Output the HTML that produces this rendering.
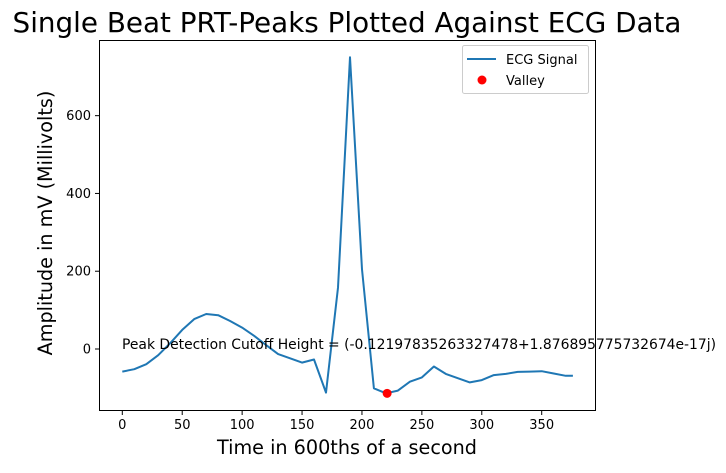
<!DOCTYPE html>
<html><head><meta charset="utf-8"><style>
body{margin:0;background:#fff}
svg text{font-family:"DejaVu Sans","Liberation Sans",sans-serif}
</style></head><body>
<svg id="chart" width="726" height="468" viewBox="0 0 726 468" xmlns="http://www.w3.org/2000/svg">
<rect width="726" height="468" fill="#fff"/>
<text x="347" y="32" font-size="27.8" text-anchor="middle">Single Beat PRT-Peaks Plotted Against ECG Data</text>
<g id="axes"></g>
<g id="marks"></g>
<text x="347" y="454" font-size="19.2" text-anchor="middle">Time in 600ths of a second</text>
<text transform="translate(52,223) rotate(-90)" font-size="19.2" text-anchor="middle">Amplitude in mV (Millivolts)</text>
<text x="122" y="349" font-size="13.9">Peak Detection Cutoff Height = (-0.12197835263327478+1.876895775732674e-17j)</text>
<rect x="99.5" y="40.5" width="496" height="370" fill="none" stroke="#000" stroke-width="1"/>
<g>
<rect x="462.5" y="45.5" width="126" height="48" rx="2" fill="#fff" fill-opacity="0.8" stroke="#ccc"/>
<line x1="467" y1="59" x2="496" y2="59" stroke="#1f77b4" stroke-width="2"/>
<text x="506" y="64" font-size="13">ECG Signal</text>
<circle cx="482" cy="80" r="4.5" fill="#ff0000"/>
<text x="506" y="85" font-size="13">Valley</text>
</g>
</svg>
<script>
const times = [0,10,20,30,40,50,60,70,80,90,100,110,120,130,140,150,160,170,180,190,200,210,220,230,240,250,260,270,280,290,300,310,320,330,340,350,360,370,376];
const amplitudes = [-58,-52,-39,-16,15,49,77,90,87,72,55,34,10,-13,-24,-35,-27,-112,158,750,205,-101,-114,-107,-84,-73,-45,-64,-75,-86,-80,-67,-64,-59,-58,-57,-63,-69,-69];
const valleyTimes = [221];
const valleyValues = [-114];
const xTicks = [0,50,100,150,200,250,300,350];
const yTicks = [0,200,400,600];
const X = v => 122.3 + v * 1.1983;
const Y = v => 349 - v * 0.3889;
const NS = "http://www.w3.org/2000/svg";
const axes = document.getElementById('axes');
const marks = document.getElementById('marks');
function mk(tag, attrs, parent){const e=document.createElementNS(NS,tag);for(const k in attrs)e.setAttribute(k,attrs[k]);parent.appendChild(e);return e;}
xTicks.forEach(t=>{
  const l=mk('line',{x1:X(t),x2:X(t),y1:410.5,y2:415,stroke:'#000'},axes);
  
  
  const tx=mk('text',{x:X(t),y:429,'font-size':13,'text-anchor':'middle'},axes);
  tx.textContent=t;
  
  
});
yTicks.forEach(t=>{
  const l=mk('line',{x1:95,x2:99.5,y1:Y(t),y2:Y(t),stroke:'#000'},axes);
  
  
  const tx=mk('text',{x:91,y:Y(t)+4.5,'font-size':13,'text-anchor':'end'},axes);
  tx.textContent=t;
  
  
});
const pts=times.map((t,i)=>X(t).toFixed(1)+','+Y(amplitudes[i]).toFixed(1)).join(' ');
const line=mk('polyline',{points:pts,fill:'none',stroke:'#1f77b4','stroke-width':2,'stroke-linejoin':'round'},marks);


valleyTimes.forEach((t,i)=>{
  const c=mk('circle',{cx:X(t),cy:Y(valleyValues[i]),r:4.5,fill:'#ff0000'},marks);
  
  
});
</script>
</body></html>
